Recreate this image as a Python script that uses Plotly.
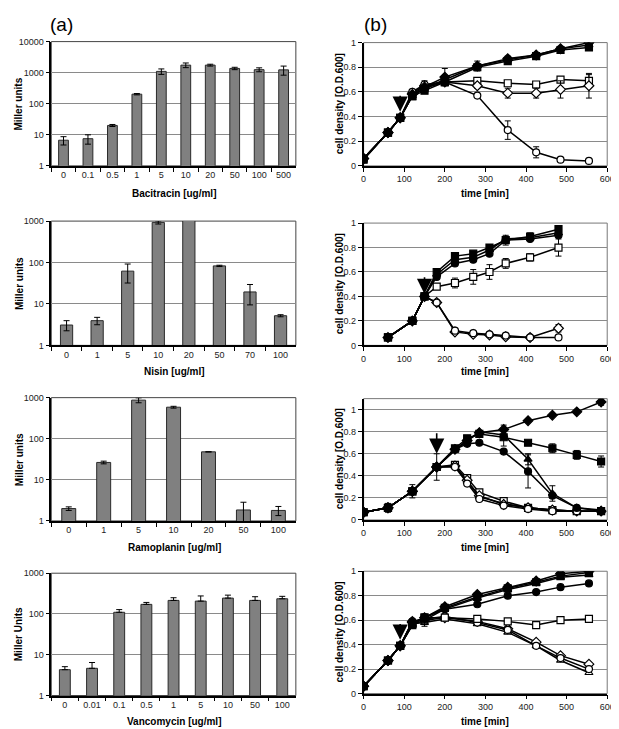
import plotly.graph_objects as go

# ---------------- (a) beta-galactosidase data ----------------
bac_conc = ["0", "0.1", "0.5", "1", "5", "10", "20", "50", "100", "500"]
bac_mu = [6.7, 7.5, 20, 203, 1100, 1750, 1750, 1370, 1250, 1230]
bac_err = [2, 2.5, 1.5, 10, 220, 300, 120, 120, 180, 400]

nis_conc = ["0", "1", "5", "10", "20", "50", "70", "100"]
nis_mu = [3.1, 3.95, 62, 930, 1200, 83, 19.5, 5.2]
nis_err = [0.85, 0.8, 30, 80, 0, 3, 10, 0.3]

ram_conc = ["0", "1", "5", "10", "20", "50", "100"]
ram_mu = [2.0, 26.5, 870, 586, 48, 1.85, 1.8]
ram_err = [0.2, 2, 120, 30, 0, 1.0, 0.45]

van_conc = ["0", "0.01", "0.1", "0.5", "1", "5", "10", "50", "100"]
van_mu = [4.3, 4.65, 110, 172, 215, 207, 245, 215, 236]
van_err = [0.8, 1.8, 18, 20, 35, 70, 45, 50, 35]

# ---------------- (b) growth curves ----------------
t_bac = [0, 60, 90, 120, 150, 200, 280, 355, 425, 485, 555]
bac_fdiamond = [0.06, 0.27, 0.39, 0.58, 0.64, 0.72, 0.81, 0.87, 0.90, 0.95, 1.00]
bac_fsquare = [0.05, 0.27, 0.39, 0.565, 0.61, 0.68, 0.80, 0.85, 0.89, 0.94, 0.96]
bac_ftriangle = [0.06, 0.27, 0.39, 0.57, 0.63, 0.70, 0.81, 0.86, 0.90, 0.95, 0.98]
bac_osquare = [0.06, 0.27, 0.39, 0.565, 0.63, 0.68, 0.69, 0.67, 0.66, 0.70, 0.69]
bac_odiamond = [0.06, 0.27, 0.39, 0.59, 0.65, 0.68, 0.65, 0.59, 0.59, 0.62, 0.65]
bac_ocircle = [0.06, 0.27, 0.39, 0.60, 0.66, 0.68, 0.57, 0.29, 0.11, 0.05, 0.04]
bac_fdiamond_err = [0, 0, 0, 0, 0.05, 0.07, 0.04, 0.02, 0.02, 0.02, 0.02]
bac_osquare_err = [0, 0, 0, 0, 0, 0, 0.02, 0.02, 0.02, 0.02, 0.05]
bac_odiamond_err = [0, 0, 0, 0, 0, 0, 0.02, 0.04, 0.04, 0.07, 0.10]
bac_ocircle_err = [0, 0, 0, 0, 0, 0, 0.01, 0.075, 0.045, 0.01, 0.01]

t_nis = [60, 120, 150, 180, 225, 270, 310, 350, 410, 480]
nis_fsquare = [0.065, 0.20, 0.40, 0.60, 0.73, 0.75, 0.80, 0.86, 0.89, 0.95]
nis_ftriangle = [0.065, 0.20, 0.40, 0.58, 0.70, 0.72, 0.78, 0.87, 0.88, 0.92]
nis_fcircle = [0.065, 0.20, 0.40, 0.56, 0.67, 0.70, 0.75, 0.86, 0.87, 0.90]
nis_osquare = [0.065, 0.20, 0.40, 0.48, 0.51, 0.56, 0.60, 0.67, 0.72, 0.80]
nis_odiamond = [0.065, 0.20, 0.40, 0.35, 0.11, 0.09, 0.085, 0.07, 0.065, 0.14]
nis_ocircle = [0.065, 0.20, 0.40, 0.35, 0.12, 0.10, 0.09, 0.08, 0.065, 0.065]
nis_fsquare_err = [0, 0, 0, 0, 0.02, 0.02, 0.02, 0.04, 0.03, 0.02]
nis_osquare_err = [0, 0, 0, 0, 0.04, 0.06, 0.06, 0.04, 0.03, 0.07]
nis_odiamond_err = [0, 0, 0, 0, 0.02, 0.01, 0.01, 0.01, 0.01, 0.03]

t_ram = [0, 60, 120, 180, 225, 255, 285, 345, 405, 465, 525, 585]
ram_fdiamond = [0.07, 0.11, 0.26, 0.48, 0.64, 0.72, 0.79, 0.82, 0.90, 0.95, 0.98, 1.07]
ram_fsquare = [0.07, 0.11, 0.26, 0.48, 0.65, 0.74, 0.78, 0.75, 0.70, 0.65, 0.59, 0.53]
ram_ftriangle = [0.07, 0.11, 0.26, 0.48, 0.63, 0.72, 0.80, 0.77, 0.55, 0.24, 0.11, 0.09]
ram_fcircle = [0.07, 0.11, 0.26, 0.48, 0.64, 0.69, 0.70, 0.62, 0.44, 0.22, 0.11, 0.08]
ram_osquare = [0.07, 0.11, 0.26, 0.48, 0.50, 0.38, 0.25, 0.17, 0.11, 0.09, 0.08, 0.08]
ram_odiamond = [0.07, 0.11, 0.26, 0.48, 0.49, 0.36, 0.22, 0.14, 0.11, 0.09, 0.08, 0.08]
ram_ocircle = [0.07, 0.11, 0.26, 0.48, 0.48, 0.33, 0.19, 0.13, 0.10, 0.08, 0.08, 0.08]
ram_otriangle = [0.07, 0.11, 0.26, 0.48, 0.49, 0.35, 0.21, 0.15, 0.11, 0.09, 0.08, 0.08]
ram_common_err = [0, 0.04, 0.06, 0.12, 0, 0, 0, 0, 0, 0, 0, 0]
ram_fdiamond_err = [0, 0, 0, 0, 0, 0, 0, 0.04, 0, 0, 0, 0.03]
ram_fsquare_err = [0, 0, 0, 0, 0.02, 0.02, 0.02, 0.08, 0.02, 0.04, 0.04, 0.05]
ram_ftriangle_err = [0, 0, 0, 0, 0, 0, 0, 0, 0.05, 0.07, 0.02, 0.01]
ram_fcircle_err = [0, 0, 0, 0, 0, 0, 0, 0, 0.15, 0.02, 0.01, 0.01]

t_van = [0, 60, 90, 120, 150, 200, 280, 355, 425, 485, 555]
van_fdiamond = [0.06, 0.27, 0.39, 0.58, 0.62, 0.71, 0.81, 0.87, 0.92, 0.98, 1.00]
van_fsquare = [0.06, 0.27, 0.39, 0.57, 0.62, 0.70, 0.79, 0.86, 0.91, 0.96, 0.99]
van_ftriangle = [0.06, 0.27, 0.39, 0.56, 0.60, 0.69, 0.78, 0.85, 0.90, 0.95, 0.97]
van_fcircle = [0.06, 0.27, 0.39, 0.58, 0.62, 0.69, 0.73, 0.80, 0.83, 0.87, 0.90]
van_osquare = [0.06, 0.27, 0.39, 0.56, 0.62, 0.62, 0.61, 0.59, 0.56, 0.60, 0.61]
van_odiamond = [0.06, 0.27, 0.39, 0.59, 0.60, 0.62, 0.59, 0.53, 0.42, 0.31, 0.24]
van_ocircle = [0.06, 0.27, 0.39, 0.59, 0.61, 0.63, 0.58, 0.52, 0.39, 0.29, 0.20]
van_otriangle = [0.06, 0.27, 0.39, 0.57, 0.58, 0.61, 0.57, 0.50, 0.39, 0.27, 0.17]
van_common_err = [0, 0, 0, 0, 0.05, 0, 0, 0, 0, 0, 0]

# arrows: time of antibiotic addition (tip y, tail y)
arrow_t = [90, 150, 180, 90]
arrow_tip = [0.44, 0.42, 0.60, 0.44]
arrow_tail = [0.58, 0.57, 0.80, 0.58]

W, H = 619, 729
FONT = "Liberation Sans, Arial, sans-serif"

def px_x(a, b):
    return [a / W, b / W]

def px_y(top, bottom):
    return [1 - bottom / H, 1 - top / H]

col_a = px_x(41, 290)
col_b = px_x(359, 607)
rows_a = [(29, 155), (211, 337), (390, 515), (568, 692)]
rows_b = [(30, 155), (213, 337), (391, 514), (566, 690)]

fig = go.Figure()
layout = dict(
    width=W, height=H, margin=dict(l=0, r=0, t=0, b=0),
    paper_bgcolor="white", plot_bgcolor="white", showlegend=False,
    font=dict(family=FONT, size=9, color="#222"),
)

bar_sets = [
    (bac_conc, bac_mu, bac_err, bac_err, 4),
    (nis_conc, nis_mu, nis_err, nis_err, 3),
    (ram_conc, ram_mu, ram_err, ram_err, 3),
    (van_conc, van_mu, van_err, [0] * len(van_err), 3),
]

def axname(i):
    return "" if i == 1 else str(i)

shapes = []
for r, (cats, vals, eup, edn, top) in enumerate(bar_sets):
    ix = 2 * r + 1
    fig.add_trace(go.Bar(
        x=cats, y=vals, xaxis="x" + axname(ix), yaxis="y" + axname(ix),
        marker=dict(color="#808080", line=dict(color="#2a2a2a", width=1)),
        error_y=dict(type="data", array=eup, arrayminus=edn, symmetric=False,
                     color="black", thickness=1, width=3),
    ))
    layout["xaxis" + axname(ix)] = dict(
        domain=col_a, anchor="y" + axname(ix), type="category",
        showline=True, linecolor="black", linewidth=1.5,
        ticks="outside", ticklen=4, tickcolor="black", tickson="boundaries",
        showgrid=False, tickfont=dict(size=9, color="#222"),
    )
    layout["yaxis" + axname(ix)] = dict(
        domain=px_y(*rows_a[r]), anchor="x" + axname(ix), type="log",
        range=[0, top], tickvals=[10 ** k for k in range(top + 1)],
        ticktext=[str(10 ** k) for k in range(top + 1)],
        showline=True, linecolor="black", linewidth=1.5,
        ticks="outside", ticklen=4, tickcolor="black",
        showgrid=True, gridcolor="#8a8a8a", gridwidth=1, zeroline=False,
        tickfont=dict(size=9, color="#222"),
    )
    layout["bargap"] = 0.6
    shapes.append(dict(type="rect", xref="x" + axname(ix) + " domain",
                       yref="y" + axname(ix) + " domain", x0=0, x1=1, y0=0, y1=1,
                       line=dict(color="#444", width=1), layer="below"))

F = "black"
O = "white"
growth_sets = [
    (t_bac, [
        (bac_osquare, "square", O, bac_osquare_err),
        (bac_odiamond, "diamond", O, bac_odiamond_err),
        (bac_ocircle, "circle", O, bac_ocircle_err),
        (bac_ftriangle, "triangle-up", F, None),
        (bac_fdiamond, "diamond", F, bac_fdiamond_err),
        (bac_fsquare, "square", F, None),
    ], 1.0),
    (t_nis, [
        (nis_odiamond, "diamond", O, nis_odiamond_err),
        (nis_ocircle, "circle", O, None),
        (nis_osquare, "square", O, nis_osquare_err),
        (nis_fcircle, "circle", F, None),
        (nis_ftriangle, "triangle-up", F, None),
        (nis_fsquare, "square", F, nis_fsquare_err),
    ], 1.0),
    (t_ram, [
        (ram_osquare, "square", O, ram_common_err),
        (ram_otriangle, "triangle-up", O, None),
        (ram_odiamond, "diamond", O, None),
        (ram_ocircle, "circle", O, None),
        (ram_fcircle, "circle", F, ram_fcircle_err),
        (ram_ftriangle, "triangle-up", F, ram_ftriangle_err),
        (ram_fsquare, "square", F, ram_fsquare_err),
        (ram_fdiamond, "diamond", F, ram_fdiamond_err),
    ], 1.1),
    (t_van, [
        (van_otriangle, "triangle-up", O, None),
        (van_odiamond, "diamond", O, None),
        (van_ocircle, "circle", O, None),
        (van_osquare, "square", O, None),
        (van_fcircle, "circle", F, None),
        (van_ftriangle, "triangle-up", F, van_common_err),
        (van_fsquare, "square", F, None),
        (van_fdiamond, "diamond", F, None),
    ], 1.0),
]

sizes = {"square": 7, "diamond": 7.5, "circle": 7, "triangle-up": 7}
annotations = []
for r, (tt, series, ymax) in enumerate(growth_sets):
    ix = 2 * r + 2
    for ys, sym, fill, err in series:
        tr = dict(
            x=tt, y=ys, mode="lines+markers",
            xaxis="x" + axname(ix), yaxis="y" + axname(ix),
            line=dict(color="black", width=1.5),
            marker=dict(symbol=sym, size=sizes[sym], color=fill,
                        line=dict(color="black", width=1.2)),
        )
        if err is not None:
            tr["error_y"] = dict(type="data", array=err, color="black",
                                 thickness=1, width=3)
        fig.add_trace(go.Scatter(**tr))
    layout["xaxis" + axname(ix)] = dict(
        domain=col_b, anchor="y" + axname(ix), range=[0, 600], dtick=100,
        showline=True, linecolor="black", linewidth=1.5,
        ticks="outside", ticklen=4, tickcolor="black",
        showgrid=False, zeroline=False, tickfont=dict(size=9, color="#222"),
    )
    layout["yaxis" + axname(ix)] = dict(
        domain=px_y(*rows_b[r]), anchor="x" + axname(ix), range=[0, ymax],
        tickvals=[0, 0.2, 0.4, 0.6, 0.8, 1.0],
        ticktext=["0", "0.2", "0.4", "0.6", "0.8", "1"],
        showline=True, linecolor="black", linewidth=1.5,
        ticks="outside", ticklen=4, tickcolor="black",
        showgrid=True, gridcolor="#8a8a8a", gridwidth=1, zeroline=False,
        tickfont=dict(size=9, color="#222"),
    )
    shapes.append(dict(type="rect", xref="x" + axname(ix) + " domain",
                       yref="y" + axname(ix) + " domain", x0=0, x1=1, y0=0, y1=1,
                       line=dict(color="#777", width=1), layer="below"))
    annotations.append(dict(
        x=arrow_t[r], y=arrow_tip[r], ax=arrow_t[r], ay=arrow_tail[r],
        xref="x" + axname(ix), yref="y" + axname(ix),
        axref="x" + axname(ix), ayref="y" + axname(ix),
        showarrow=True, arrowhead=2, arrowsize=1.9, arrowwidth=1.6,
        arrowcolor="black", text="",
    ))

# titles
def ann(text, x, y, size=10, bold=True, angle=0):
    annotations.append(dict(
        text=("<b>%s</b>" % text) if bold else text,
        x=x / W, y=1 - y / H, xref="paper", yref="paper",
        showarrow=False, textangle=angle,
        font=dict(family=FONT, size=size, color="black"),
        xanchor="center", yanchor="middle",
    ))

ann("(a)", 51, 12, size=19, bold=False)
ann("(b)", 371, 12, size=19, bold=False)

x_titles_a = ["Bacitracin [ug/ml]", "Nisin [ug/ml]", "Ramoplanin [ug/ml]", "Vancomycin [ug/ml]"]
x_title_y = [183, 363, 542, 718]
y_titles_a = ["Miller units", "Miller units", "Miller units", "Miller Units"]
for r in range(4):
    ann(x_titles_a[r], 166, x_title_y[r])
    ann("time [min]", 483, x_title_y[r])
    ta, ba = rows_a[r]
    ann(y_titles_a[r], 8, (ta + ba) / 2, angle=-90)
    tb, bb = rows_b[r]
    ann("cell density [O.D.600]", 334, (tb + bb) / 2, angle=-90)

layout["shapes"] = shapes
layout["annotations"] = annotations
fig.update_layout(**layout)
fig.write_html("out.html")
